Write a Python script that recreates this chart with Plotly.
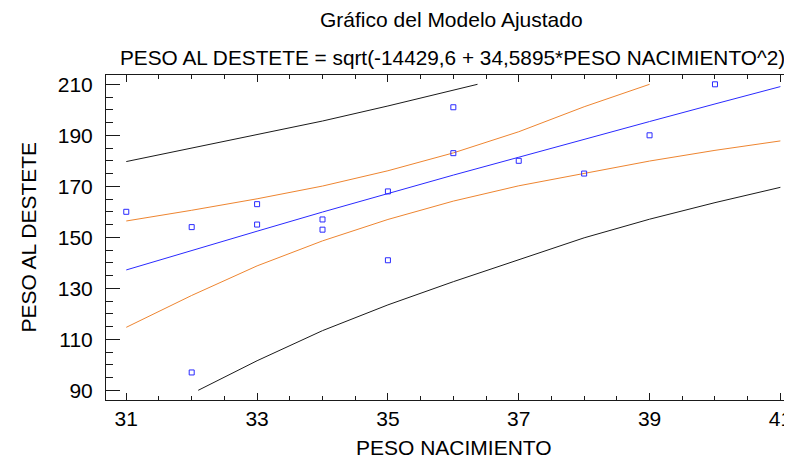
import plotly.graph_objects as go

# Observed data
peso_nac = [31, 32, 32, 33, 33, 34, 34, 35, 35, 36, 36, 37, 38, 39, 40]
peso_destete = [160, 154, 97, 163, 155, 157, 153, 168, 141, 201, 183, 180, 175, 190, 210]

# Fitted model line
fit_x = [31, 32, 33, 34, 35, 36, 37, 38, 39, 40, 41]
fit_y = [137.2, 144.9, 152.4, 159.9, 167.2, 174.4, 181.4, 188.5, 195.4, 202.3, 209.1]

# Confidence limits (orange)
conf_up_x = [31, 32, 33, 34, 35, 36, 37, 38, 39]
conf_up_y = [156.4, 160.6, 165.1, 170.1, 176.1, 183.1, 191.4, 201.2, 210.0]
conf_lo_x = [31, 32, 33, 34, 35, 36, 37, 38, 39, 40, 41]
conf_lo_y = [114.7, 127.2, 138.8, 148.6, 157.0, 164.2, 170.2, 175.2, 179.9, 184.1, 187.8]

# Prediction limits (black)
pred_up_x = [31, 32, 33, 34, 35, 36, 36.37]
pred_up_y = [179.7, 184.9, 190.1, 195.6, 201.5, 207.8, 210.0]
pred_lo_x = [32.1, 33, 34, 35, 36, 37, 38, 39, 40, 41]
pred_lo_y = [90.0, 101.6, 113.4, 123.5, 132.6, 141.1, 149.8, 157.1, 163.6, 169.6]

x_ticks = [31, 33, 35, 37, 39, 41]
y_ticks = [90, 110, 130, 150, 170, 190, 210]

FONT = "Liberation Sans, Arial, sans-serif"
BLACK = "#1a1a1a"
ORANGE = "#ee8530"
BLUE = "#2a2aff"

fig = go.Figure()
for xs, ys, col in [(pred_up_x, pred_up_y, BLACK), (pred_lo_x, pred_lo_y, BLACK),
                    (conf_up_x, conf_up_y, ORANGE), (conf_lo_x, conf_lo_y, ORANGE),
                    (fit_x, fit_y, BLUE)]:
    fig.add_trace(go.Scatter(x=xs, y=ys, mode="lines",
                             line=dict(color=col, width=1), showlegend=False))
fig.add_trace(go.Scatter(x=peso_nac, y=peso_destete, mode="markers",
                         marker=dict(symbol="square-open", size=5, color=BLUE,
                                     line=dict(width=1, color=BLUE)),
                         showlegend=False))

# The page body adds an 8px offset; plot box spans ref x 106-800, y 75-400
PW = 694.0
PH = 325.0


def px_x(x):
    return (x - 106) / PW


def px_y(y):
    return (400 - y) / PH


fig.update_layout(
    width=792, height=459,
    margin=dict(l=98, r=0, t=67, b=67, autoexpand=False),
    paper_bgcolor="white", plot_bgcolor="white",
    font=dict(family=FONT, size=21, color="black"),
    xaxis=dict(range=[30.69, 41.30], tickvals=x_ticks, ticks="inside", ticklen=7,
               tickcolor=BLACK, tickwidth=1, showline=True, linecolor=BLACK, linewidth=1,
               mirror="ticks", showgrid=False, zeroline=False, automargin=False,
               minor=dict(dtick=0.5, tick0=31, ticks="inside", ticklen=4, tickcolor=BLACK,
                          showgrid=False),
               tickfont=dict(size=21)),
    yaxis=dict(range=[86.2, 213.65], tickvals=y_ticks, ticks="inside", ticklen=14,
               tickcolor=BLACK, tickwidth=1, showline=True, linecolor=BLACK, linewidth=1,
               mirror="ticks", showgrid=False, zeroline=False, automargin=False,
               ticklabelstandoff=8,
               minor=dict(dtick=5, tick0=90, ticks="inside", ticklen=7, tickcolor=BLACK,
                          showgrid=False),
               tickfont=dict(size=21)),
    annotations=[
        dict(text="Gráfico del Modelo Ajustado", xref="paper", yref="paper",
             x=px_x(451.5), y=px_y(20), xanchor="center", yanchor="middle",
             showarrow=False, font=dict(size=21)),
        dict(text="PESO AL DESTETE = sqrt(-14429,6 + 34,5895*PESO NACIMIENTO^2)",
             xref="paper", yref="paper", x=px_x(452.5), y=px_y(57),
             xanchor="center", yanchor="middle", showarrow=False, font=dict(size=20.8)),
        dict(text="PESO NACIMIENTO", xref="paper", yref="paper",
             x=px_x(454), y=px_y(447), xanchor="center", yanchor="middle",
             showarrow=False, font=dict(size=21)),
        dict(text="PESO AL DESTETE", xref="paper", yref="paper",
             x=px_x(28), y=0.5, xanchor="center", yanchor="middle",
             textangle=-90, showarrow=False, font=dict(size=21)),
    ],
)

fig.write_html("out.html")
